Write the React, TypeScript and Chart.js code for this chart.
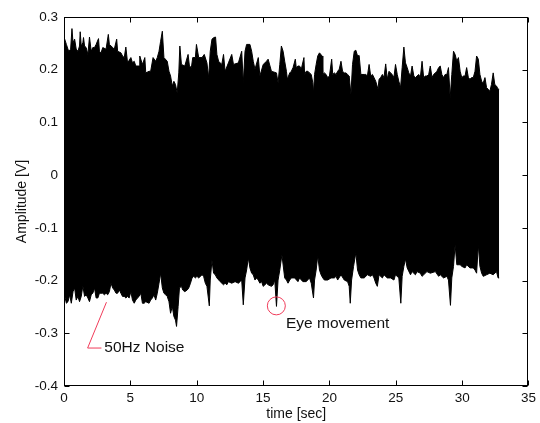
import React, { useEffect, useRef } from 'react';
import { Chart, registerables } from 'chart.js';

Chart.register(...registerables);

// Upper envelope of the recorded signal (time in s, amplitude in V)
const upperTime = [
  0.0, 0.18, 0.35, 0.5, 0.6, 0.68, 0.8, 0.92, 1.05, 1.17, 1.22, 1.3, 1.42, 1.47, 1.55, 1.67, 1.8, 1.92, 2.05, 2.17,
  2.3, 2.42, 2.6, 2.67, 2.79, 2.92, 3.17, 3.34, 3.42, 3.67, 3.79, 3.97, 4.04, 4.29, 4.41, 4.54, 4.66, 4.79, 5.04, 5.16,
  5.29, 5.41, 5.66, 5.71, 5.91, 6.09, 6.16, 6.41, 6.53, 6.71, 6.91, 7.03, 7.16, 7.28, 7.41, 7.53, 7.78, 7.91, 8.03, 8.16,
  8.28, 8.4, 8.53, 8.65, 8.73, 8.85, 9.1, 9.35, 9.45, 9.6, 9.7, 9.9, 9.98, 10.15, 10.4, 10.57, 10.77, 10.9, 11.02, 11.15,
  11.3, 11.42, 11.52, 11.65, 11.89, 12.02, 12.14, 12.39, 12.64, 12.77, 13.14, 13.39, 13.51, 13.64, 13.76, 14.01, 14.14, 14.26, 14.39, 14.64,
  14.76, 15.01, 15.26, 15.38, 15.63, 16.01, 16.13, 16.26, 16.38, 16.51, 16.63, 16.76, 16.83, 17.01, 17.13, 17.26, 17.43, 17.5, 17.63, 17.75,
  17.88, 18.08, 18.13, 18.25, 18.38, 18.5, 18.63, 18.75, 18.8, 18.88, 19.0, 19.12, 19.25, 19.45, 19.5, 19.62, 19.75, 19.87, 20.0, 20.17,
  20.25, 20.37, 20.5, 20.62, 20.74, 20.87, 20.99, 21.12, 21.24, 21.37, 21.49, 21.62, 21.74, 21.87, 21.99, 22.12, 22.24, 22.37, 22.62, 22.74,
  22.86, 22.99, 23.11, 23.24, 23.36, 23.49, 23.66, 23.74, 23.86, 23.99, 24.11, 24.24, 24.36, 24.49, 24.61, 24.73, 24.86, 24.98, 25.11, 25.23,
  25.36, 25.48, 25.61, 25.73, 25.86, 25.98, 26.11, 26.23, 26.36, 26.48, 26.6, 26.73, 26.85, 26.98, 27.1, 27.23, 27.35, 27.48, 27.6, 27.73,
  27.85, 27.98, 28.1, 28.23, 28.35, 28.47, 28.6, 28.72, 28.85, 28.97, 29.1, 29.22, 29.35, 29.47, 29.6, 29.72, 29.85, 29.97, 30.1, 30.22,
  30.34, 30.47, 30.59, 30.72, 30.84, 30.97, 31.09, 31.22, 31.34, 31.47, 31.59, 31.72, 31.84, 31.96, 32.09, 32.21, 32.34, 32.46, 32.59, 32.71,
  32.79,
];
const upperAmp = [
  0.262, 0.248, 0.235, 0.239, 0.278, 0.251, 0.258, 0.239, 0.235, 0.245, 0.272, 0.245, 0.251, 0.261, 0.245, 0.242, 0.229, 0.262, 0.235, 0.242,
  0.242, 0.248, 0.259, 0.235, 0.232, 0.242, 0.239, 0.267, 0.248, 0.242, 0.239, 0.258, 0.235, 0.232, 0.226, 0.223, 0.243, 0.213, 0.223, 0.213,
  0.216, 0.207, 0.207, 0.226, 0.21, 0.223, 0.194, 0.197, 0.197, 0.223, 0.216, 0.223, 0.235, 0.254, 0.273, 0.223, 0.216, 0.197, 0.188, 0.169,
  0.178, 0.172, 0.156, 0.194, 0.245, 0.21, 0.207, 0.229, 0.207, 0.204, 0.223, 0.223, 0.248, 0.223, 0.223, 0.229, 0.213, 0.185, 0.235, 0.258,
  0.261, 0.262, 0.229, 0.216, 0.21, 0.229, 0.197, 0.213, 0.229, 0.21, 0.213, 0.235, 0.175, 0.235, 0.248, 0.248, 0.235, 0.216, 0.201, 0.223,
  0.188, 0.21, 0.216, 0.22, 0.197, 0.194, 0.175, 0.21, 0.245, 0.235, 0.216, 0.197, 0.182, 0.194, 0.197, 0.204, 0.22, 0.204, 0.207, 0.207,
  0.201, 0.223, 0.191, 0.197, 0.197, 0.194, 0.191, 0.175, 0.156, 0.191, 0.21, 0.226, 0.232, 0.226, 0.191, 0.194, 0.191, 0.185, 0.188, 0.22,
  0.191, 0.194, 0.191, 0.197, 0.201, 0.216, 0.197, 0.194, 0.194, 0.191, 0.188, 0.153, 0.21, 0.235, 0.237, 0.226, 0.227, 0.191, 0.191, 0.191,
  0.188, 0.21, 0.188, 0.191, 0.185, 0.178, 0.163, 0.182, 0.185, 0.191, 0.185, 0.211, 0.182, 0.197, 0.194, 0.191, 0.185, 0.21, 0.191, 0.178,
  0.166, 0.204, 0.243, 0.213, 0.204, 0.194, 0.188, 0.207, 0.188, 0.185, 0.188, 0.191, 0.185, 0.216, 0.185, 0.188, 0.188, 0.191, 0.207, 0.185,
  0.191, 0.194, 0.197, 0.204, 0.207, 0.191, 0.185, 0.191, 0.191, 0.204, 0.147, 0.191, 0.235, 0.229, 0.216, 0.223, 0.197, 0.185, 0.188, 0.188,
  0.204, 0.185, 0.182, 0.185, 0.185, 0.197, 0.226, 0.22, 0.191, 0.178, 0.175, 0.185, 0.166, 0.163, 0.159, 0.172, 0.194, 0.172, 0.169, 0.163,
  0.163,
];

// Lower envelope of the recorded signal
const lowerTime = [
  0.0, 0.18, 0.3, 0.43, 0.55, 0.68, 0.8, 0.92, 1.05, 1.17, 1.3, 1.42, 1.55, 1.67, 1.8, 1.92, 2.05, 2.17, 2.3, 2.42,
  2.55, 2.67, 2.92, 3.04, 3.17, 3.29, 3.42, 3.54, 3.67, 3.79, 3.92, 4.04, 4.17, 4.29, 4.41, 4.54, 4.66, 4.79, 4.91, 5.04,
  5.16, 5.29, 5.41, 5.54, 5.66, 5.79, 5.91, 6.04, 6.16, 6.41, 6.53, 6.66, 6.78, 6.91, 7.03, 7.16, 7.28, 7.41, 7.53, 7.66,
  7.78, 7.91, 8.03, 8.16, 8.28, 8.4, 8.48, 8.6, 8.7, 8.85, 8.95, 9.1, 9.28, 9.4, 9.53, 9.65, 9.78, 9.9, 10.02, 10.15,
  10.4, 10.52, 10.65, 10.77, 10.95, 11.02, 11.15, 11.27, 11.4, 11.52, 11.77, 11.89, 12.02, 12.14, 12.27, 12.39, 12.64, 12.89, 13.14, 13.27,
  13.39, 13.51, 13.64, 13.76, 13.89, 14.01, 14.14, 14.26, 14.39, 14.51, 14.64, 14.76, 14.89, 15.01, 15.14, 15.26, 15.38, 15.63, 15.76, 15.88,
  16.01, 16.13, 16.26, 16.42, 16.63, 16.76, 16.88, 17.01, 17.13, 17.38, 17.63, 17.75, 18.0, 18.25, 18.5, 18.63, 18.8, 18.88, 19.0, 19.12,
  19.25, 19.37, 19.5, 19.62, 19.87, 20.12, 20.37, 20.5, 20.62, 20.87, 21.12, 21.37, 21.49, 21.57, 21.67, 21.82, 21.99, 22.12, 22.24, 22.37,
  22.62, 22.86, 23.11, 23.24, 23.36, 23.49, 23.61, 23.74, 23.99, 24.11, 24.36, 24.61, 24.86, 24.98, 25.23, 25.38, 25.48, 25.61, 25.73, 25.86,
  26.11, 26.23, 26.48, 26.6, 26.85, 26.98, 27.35, 27.6, 27.98, 28.23, 28.35, 28.6, 28.85, 28.97, 29.12, 29.22, 29.35, 29.47, 29.6, 29.85,
  29.97, 30.22, 30.34, 30.59, 30.84, 30.97, 31.09, 31.22, 31.34, 31.47, 31.59, 31.84, 32.09, 32.34, 32.59, 32.71, 32.79,
];
const lowerAmp = [
  -0.224, -0.243, -0.24, -0.227, -0.243, -0.221, -0.214, -0.237, -0.23, -0.24, -0.23, -0.21, -0.23, -0.227, -0.233, -0.24, -0.227, -0.224, -0.214, -0.233,
  -0.233, -0.224, -0.224, -0.227, -0.224, -0.227, -0.221, -0.205, -0.214, -0.218, -0.224, -0.224, -0.218, -0.224, -0.23, -0.23, -0.233, -0.23, -0.233, -0.221,
  -0.237, -0.243, -0.237, -0.233, -0.23, -0.224, -0.243, -0.243, -0.24, -0.243, -0.237, -0.233, -0.227, -0.237, -0.224, -0.205, -0.186, -0.214, -0.224, -0.227,
  -0.23, -0.24, -0.262, -0.249, -0.268, -0.275, -0.287, -0.249, -0.214, -0.211, -0.218, -0.221, -0.218, -0.214, -0.205, -0.195, -0.192, -0.195, -0.192, -0.195,
  -0.189, -0.192, -0.205, -0.211, -0.248, -0.199, -0.161, -0.186, -0.189, -0.195, -0.202, -0.205, -0.208, -0.205, -0.208, -0.202, -0.205, -0.202, -0.205, -0.202,
  -0.199, -0.246, -0.195, -0.18, -0.157, -0.176, -0.186, -0.189, -0.199, -0.195, -0.199, -0.205, -0.202, -0.211, -0.208, -0.205, -0.208, -0.211, -0.208, -0.199,
  -0.249, -0.199, -0.18, -0.151, -0.195, -0.199, -0.205, -0.199, -0.195, -0.195, -0.202, -0.195, -0.202, -0.202, -0.195, -0.205, -0.233, -0.199, -0.18, -0.153,
  -0.18, -0.189, -0.195, -0.199, -0.199, -0.195, -0.195, -0.192, -0.199, -0.189, -0.199, -0.202, -0.211, -0.243, -0.199, -0.173, -0.147, -0.18, -0.189, -0.195,
  -0.195, -0.189, -0.192, -0.189, -0.195, -0.205, -0.211, -0.189, -0.195, -0.189, -0.195, -0.195, -0.199, -0.189, -0.195, -0.243, -0.192, -0.173, -0.159, -0.176,
  -0.189, -0.183, -0.189, -0.183, -0.186, -0.192, -0.183, -0.186, -0.183, -0.192, -0.189, -0.195, -0.192, -0.199, -0.247, -0.195, -0.173, -0.132, -0.17, -0.17,
  -0.173, -0.176, -0.17, -0.176, -0.176, -0.18, -0.186, -0.132, -0.173, -0.186, -0.192, -0.189, -0.186, -0.189, -0.183, -0.195, -0.195,
];

// Axis ranges and tick steps
const xRange = [0, 35];
const xStep = 5;
const yRange = [-0.4, 0.3];
const yStep = 0.1;

// Annotations (data coordinates)
const noiseLabel = '50Hz Noise';
const noiseLeader = [
  [3.2, -0.241],
  [1.78, -0.328],
  [2.82, -0.328],
];
const noiseTextAt = [3.04, -0.328];
const eyeLabel = 'Eye movement';
const eyeCircleAt = [16.0, -0.248];
const eyeTextAt = [16.73, -0.282];

const FONT = '"Liberation Sans", Arial, Helvetica, sans-serif';
const RED = '#f03c5a';

const framePlugin = {
  id: 'matlabFrame',
  afterDatasetsDraw(chart: any) {
    const { ctx, chartArea: a, scales } = chart;
    const xs = scales.x;
    const ys = scales.y;
    ctx.save();
    ctx.strokeStyle = '#000';
    ctx.lineWidth = 1;
    const L = Math.round(a.left) + 0.5;
    const R = Math.round(a.right) - 0.5;
    const T = Math.round(a.top) + 0.5;
    const B = Math.round(a.bottom) - 0.5;
    ctx.strokeRect(L, T, R - L, B - T);
    const len = 5;
    ctx.beginPath();
    xs.ticks.forEach((t: any) => {
      const px = Math.round(xs.getPixelForValue(t.value)) + 0.5;
      ctx.moveTo(px, B);
      ctx.lineTo(px, B - len);
      ctx.moveTo(px, T);
      ctx.lineTo(px, T + len);
    });
    ys.ticks.forEach((t: any) => {
      const py = Math.round(ys.getPixelForValue(t.value)) + 0.5;
      ctx.moveTo(L, py);
      ctx.lineTo(L + len, py);
      ctx.moveTo(R, py);
      ctx.lineTo(R - len, py);
    });
    ctx.stroke();
    ctx.restore();
  },
};

const annotationPlugin = {
  id: 'annotations',
  afterDraw(chart: any) {
    const { ctx, scales } = chart;
    const px = (v: number) => scales.x.getPixelForValue(v);
    const py = (v: number) => scales.y.getPixelForValue(v);
    ctx.save();
    ctx.strokeStyle = RED;
    ctx.lineWidth = 1;
    ctx.beginPath();
    noiseLeader.forEach((p, i) => {
      if (i === 0) ctx.moveTo(px(p[0]), py(p[1]));
      else ctx.lineTo(px(p[0]), py(p[1]));
    });
    ctx.stroke();
    ctx.beginPath();
    ctx.arc(px(eyeCircleAt[0]), py(eyeCircleAt[1]), 9, 0, Math.PI * 2);
    ctx.stroke();
    ctx.fillStyle = '#111';
    ctx.font = `15.5px ${FONT}`;
    ctx.textBaseline = 'middle';
    ctx.textAlign = 'left';
    ctx.fillText(noiseLabel, px(noiseTextAt[0]), py(noiseTextAt[1]));
    ctx.fillText(eyeLabel, px(eyeTextAt[0]), py(eyeTextAt[1]));
    ctx.restore();
  },
};

export default function App() {
  const ref = useRef<HTMLCanvasElement | null>(null);

  useEffect(() => {
    if (!ref.current) return;
    const toPts = (ts: number[], vs: number[]) => ts.map((t, i) => ({ x: t, y: vs[i] }));
    const common = {
      borderColor: '#000',
      backgroundColor: '#000',
      borderWidth: 1,
      pointRadius: 0,
      tension: 0,
    };
    const chart = new Chart(ref.current, {
      type: 'line',
      data: {
        datasets: [
          { ...common, fill: '+1', data: toPts(upperTime, upperAmp) } as any,
          { ...common, fill: false, data: toPts(lowerTime, lowerAmp) } as any,
        ],
      },
      options: {
        animation: false,
        responsive: false,
        maintainAspectRatio: false,
        layout: { padding: { left: 0, right: 8, top: 17, bottom: 0 } },
        plugins: { legend: { display: false }, tooltip: { enabled: false } },
        scales: {
          x: {
            type: 'linear',
            min: xRange[0],
            max: xRange[1],
            grid: { display: false, drawTicks: false },
            border: { display: false },
            ticks: {
              stepSize: xStep,
              color: '#111',
              padding: 4,
              maxRotation: 0,
              font: { family: FONT, size: 13.5 },
              callback: (v: any) => String(Number(Number(v).toFixed(1))),
            },
            title: {
              display: true,
              text: 'time [sec]',
              color: '#111',
              font: { family: FONT, size: 14 },
              padding: { top: 0, bottom: 0 },
            },
            afterFit: (s: any) => {
              s.height = 37;
            },
          },
          y: {
            type: 'linear',
            min: yRange[0],
            max: yRange[1],
            grid: { display: false, drawTicks: false },
            border: { display: false },
            ticks: {
              stepSize: yStep,
              color: '#111',
              padding: 6,
              font: { family: FONT, size: 13.5 },
              callback: (v: any) => String(Number(Number(v).toFixed(1))),
            },
            title: {
              display: true,
              text: 'Amplitude [V]',
              color: '#111',
              font: { family: FONT, size: 14 },
              padding: { top: 13.5, bottom: 0 },
            },
            afterFit: (s: any) => {
              s.width = 64;
            },
          },
        },
      },
      plugins: [framePlugin, annotationPlugin],
    });
    return () => chart.destroy();
  }, []);

  return (
    <div style={{ position: 'fixed', left: 0, top: 0, width: 540, height: 423, background: '#fff' }}>
      <canvas ref={ref} width={540} height={423} style={{ width: 540, height: 423, display: 'block' }} />
    </div>
  );
}
